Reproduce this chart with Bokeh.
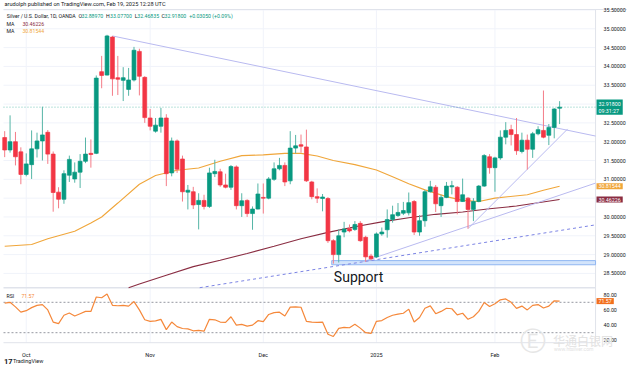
from bokeh.plotting import figure
from bokeh.models import (Range1d, FixedTicker, Label, ColumnDataSource, PrintfTickFormatter,
                          LinearAxis)
from bokeh.embed import file_html
from bokeh.resources import INLINE

# ---------------- data ----------------
OPEN = [32.11, 31.78, 32.00, 31.73, 31.13, 31.39, 31.81, 32.02, 32.25, 31.67,
        30.66, 30.47, 31.11, 31.01, 31.19, 31.48, 31.69, 31.69, 33.86, 33.77,
        34.78, 33.70, 33.63, 33.39, 33.64, 34.40, 33.71, 32.63, 32.28, 32.41,
        32.63, 31.17, 32.02, 31.54, 30.66, 30.67, 30.33, 30.44, 30.28, 31.15,
        31.20, 30.85, 30.79, 31.33, 30.30, 30.44, 30.09, 30.21, 30.52, 30.50,
        31.00, 31.28, 31.37, 30.96, 31.83, 31.92, 31.86, 30.93, 30.54, 30.49,
        30.49, 29.37, 29.00, 29.60, 29.69, 29.67, 29.83, 29.46, 28.96, 28.94,
        29.55, 29.66, 29.93, 30.04, 30.10, 30.11, 30.41, 29.60, 29.90, 30.67,
        30.79, 30.30, 30.52, 30.80, 30.79, 30.41, 30.50, 30.20, 30.41, 30.82,
        31.60, 31.31, 31.57, 32.12, 32.32, 32.19, 31.74, 32.04, 31.80, 32.21,
        32.30, 32.17, 32.38, 32.8897]
HIGH = [32.28, 32.70, 32.26, 31.85, 31.69, 32.30, 32.24, 32.93, 32.31, 31.74,
        30.79, 31.24, 31.63, 31.45, 31.67, 32.11, 32.06, 33.76, 34.28, 34.84,
        34.81, 34.28, 33.98, 33.96, 34.52, 34.47, 33.74, 32.87, 32.63, 32.90,
        32.73, 32.11, 32.06, 31.63, 30.85, 30.80, 30.63, 30.59, 31.31, 31.52,
        31.28, 31.15, 31.38, 31.37, 30.63, 30.47, 30.28, 30.89, 30.89, 31.06,
        31.45, 31.57, 31.45, 32.28, 32.18, 32.19, 32.32, 30.96, 30.76, 30.61,
        30.53, 29.41, 29.67, 29.87, 29.80, 29.89, 29.89, 29.50, 29.02, 29.59,
        29.72, 30.20, 30.30, 30.37, 30.40, 30.65, 30.45, 30.05, 30.72, 30.96,
        30.85, 30.59, 30.93, 30.96, 30.82, 31.02, 30.53, 30.50, 30.85, 31.67,
        31.67, 31.60, 32.30, 32.52, 32.45, 32.63, 32.24, 32.19, 32.26, 32.41,
        33.36, 32.47, 32.89, 33.077]
LOW = [31.59, 31.71, 31.37, 30.87, 31.08, 31.01, 31.58, 31.50, 31.41, 30.14,
       30.23, 30.35, 30.93, 30.91, 30.77, 31.43, 31.31, 31.67, 33.42, 33.76,
       33.22, 33.24, 33.08, 33.22, 33.60, 33.23, 32.50, 32.30, 32.24, 32.24,
       30.82, 31.08, 31.17, 30.41, 30.20, 30.21, 29.67, 30.20, 30.24, 31.06,
       30.80, 30.76, 30.72, 30.20, 30.00, 30.00, 29.66, 30.20, 30.09, 30.47,
       30.96, 31.24, 30.82, 30.87, 31.69, 31.71, 30.93, 30.47, 30.37, 30.15,
       29.31, 28.76, 28.79, 29.46, 29.59, 29.63, 29.34, 28.81, 28.85, 28.91,
       29.50, 29.45, 29.85, 30.00, 30.05, 30.04, 29.52, 29.50, 29.74, 30.65,
       30.13, 30.00, 30.50, 30.60, 30.07, 30.40, 29.69, 29.89, 30.39, 30.80,
       31.15, 30.67, 31.52, 31.93, 31.90, 31.65, 31.69, 31.26, 31.57, 32.17,
       32.09, 31.91, 32.09, 32.46835]
CLOSE = [31.78, 32.00, 31.60, 31.13, 31.41, 31.81, 32.02, 32.18, 31.67, 30.65,
         30.47, 31.15, 31.53, 31.19, 31.48, 31.67, 31.66, 33.69, 33.76, 34.81,
         33.67, 33.66, 33.70, 33.64, 34.43, 33.74, 32.64, 32.41, 32.44, 32.63,
         31.15, 32.02, 31.27, 30.67, 30.71, 30.32, 30.44, 30.28, 31.17, 31.21,
         30.85, 30.79, 31.34, 30.30, 30.43, 30.09, 30.21, 30.61, 30.50, 31.01,
         31.28, 31.37, 30.93, 31.83, 31.89, 31.88, 30.96, 30.54, 30.50, 30.53,
         29.37, 29.00, 29.50, 29.68, 29.63, 29.80, 29.37, 28.94, 28.89, 29.55,
         29.60, 29.93, 30.06, 30.12, 30.17, 30.38, 29.60, 29.90, 30.67, 30.80,
         30.35, 30.52, 30.82, 30.83, 30.41, 30.59, 30.20, 30.41, 30.82, 31.63,
         31.31, 31.57, 32.12, 32.30, 32.19, 31.76, 32.04, 31.80, 32.21, 32.32,
         32.12, 32.38, 32.87, 32.918]

RSI = [69, 70, 64, 57, 59, 63, 66, 67, 60, 44,
       42, 53, 56, 52, 55, 58, 58, 77, 76, 81,
       66, 65.5, 66, 65, 71, 60, 47, 45, 45.5, 47.5,
       34, 44, 38, 35.5, 35, 32.5, 33, 32, 47.6, 47,
       44, 43.5, 51, 40, 41, 38.7, 40, 45.8, 44.5, 54,
       56.5, 57, 52, 63.6, 64, 63.5, 45, 44, 43.5, 44,
       28, 25, 35.6, 37, 36.5, 41, 36, 30, 29, 45,
       46, 50, 53, 54.5, 55.6, 61, 44, 50, 62.2, 65.3,
       55, 58, 62.2, 61.5, 53.5, 55.6, 47.6, 51, 58, 69.8,
       64.4, 68, 73.3, 74.5, 70, 62, 65, 60, 66, 67,
       62.5, 65, 72, 71.57]
RSI_LAST = 71.57
RSI_BANDS = [70, 30]
RSI_TICKS = [20, 40, 60, 80]

# moving averages (sampled along the drawn curves)
MA50_X = [0, 5, 8, 10, 13, 16, 18, 21, 25, 28, 32, 36, 40, 44, 48, 52, 55, 58, 61, 65,
          69, 72, 75, 78, 82, 85, 88, 91, 97, 100, 103]
MA50_Y = [29.22, 29.27, 29.42, 29.50, 29.62, 29.84, 30.00, 30.37, 30.87, 31.10, 31.24,
          31.30, 31.48, 31.63, 31.65, 31.69, 31.69, 31.62, 31.50, 31.39, 31.25, 31.07,
          30.88, 30.72, 30.54, 30.44, 30.41, 30.50, 30.59, 30.71, 30.81544]
MA200_X = [23, 25, 30, 35, 40, 45, 50, 55, 60, 65, 70, 75, 80, 85, 90, 95, 103]
MA200_Y = [28.12, 28.22, 28.45, 28.68, 28.85, 29.03, 29.22, 29.42, 29.59, 29.74, 29.87,
           29.98, 30.07, 30.13, 30.22, 30.29, 30.46226]

# drawings
DOWN_TL_X, DOWN_TL_Y = [20, 109.67], [34.81, 32.15]
UP_TL1_X, UP_TL1_Y = [66.5, 109.67], [28.81, 30.90]
UP_TL2_X, UP_TL2_Y = [86, 104.5], [29.69, 32.34]
DASH_TL_X, DASH_TL_Y = [36.2, 109.67], [28.12, 29.79]
SUPPORT_LEFT, SUPPORT_LOW, SUPPORT_HIGH = 60.7, 28.73, 28.84

PRICE_GRID = [28.5, 29.0, 29.5, 30.0, 30.5, 31.0, 31.5, 32.0, 32.5, 33.0, 33.5, 34.0, 34.5, 35.0, 35.5]
PRICE_LABELS = [28.5, 29.0, 29.5, 30.0, 31.0, 31.5, 32.0, 32.5, 33.5, 34.0, 34.5, 35.0, 35.5]
MONTH_TICKS = [4, 27, 48, 69, 91]
MONTH_LABELS = ["Oct", "Nov", "Dec", "2025", "Feb"]

LEG_O, LEG_H, LEG_L, LEG_C = "32.88970", "33.07700", "32.46835", "32.91800"
LEG_CHG = "+0.03050 (+0.09%)"
MA200_LAST, MA50_LAST = 30.46226, 30.81544

# ---------------- styling / layout ----------------
GREEN, RED = "#089981", "#f23645"
WICK_G, WICK_R = "#55b5a6", "#f47c87"
ORANGE, MAROON = "#f0a63a", "#8a2d42"
RSI_COL, RSI_BOX = "#f5883a", "#f26f1d"
LAV = "#b9baf0"
TXT = "#131722"
BORDER = "#e0e3eb"
GRID = "#f0f3fa"
FONT = "Roboto"

W, H = 627, 365
X0, XEND = -0.7767, 115.6           # whole canvas, in bar-index units
PANE_X0, PANE_X1 = -0.22, 109.67    # chart panes, in bar-index units
Y_BOT, Y_TOP = 26.053, 35.752       # whole canvas, in price units
PANE_TOP, PANE_SPLIT, PANE_BOT = 35.513, 28.117, 26.659
R_BOT, R_TOP = -13.2, 467.4         # whole canvas, in RSI units
BOX_X = 596                         # screen x of the price-scale badges

p = figure(width=W, height=H, output_backend="svg", toolbar_location=None,
           x_range=Range1d(X0, XEND), y_range=Range1d(Y_BOT, Y_TOP),
           x_axis_location=None, y_axis_location=None, min_border=0)
p.extra_y_ranges = {"rsi": Range1d(R_BOT, R_TOP)}
p.outline_line_color = None
p.background_fill_color = "white"
p.border_fill_color = "white"
p.xgrid.visible = False
p.ygrid.visible = False


def style_axis(ax, standoff, size="5.3px"):
    ax.axis_line_color = None
    ax.major_tick_line_color = None
    ax.minor_tick_line_color = None
    ax.major_label_text_font = FONT
    ax.major_label_text_font_size = size
    ax.major_label_text_color = TXT
    ax.major_label_standoff = standoff


price_axis = LinearAxis(fixed_location=PANE_X1, ticker=FixedTicker(ticks=PRICE_LABELS),
                        formatter=PrintfTickFormatter(format="%.5f"))
style_axis(price_axis, 2)
p.add_layout(price_axis, "right")

rsi_axis = LinearAxis(fixed_location=PANE_X1, y_range_name="rsi",
                      ticker=FixedTicker(ticks=RSI_TICKS), formatter=PrintfTickFormatter(format="%.2f"))
style_axis(rsi_axis, 2)
p.add_layout(rsi_axis, "right")

time_axis = LinearAxis(fixed_location=PANE_BOT, ticker=FixedTicker(ticks=MONTH_TICKS),
                       major_label_overrides={t: s for t, s in zip(MONTH_TICKS, MONTH_LABELS)})
style_axis(time_axis, 3, "5.5px")
p.add_layout(time_axis, "below")

# grid lines and pane borders
p.segment(x0=PANE_X0, x1=PANE_X1, y0=PRICE_GRID, y1=PRICE_GRID, line_color=GRID, line_width=1)
p.segment(x0=MONTH_TICKS, x1=MONTH_TICKS, y0=PANE_BOT, y1=PANE_TOP, line_color=GRID, line_width=1)
p.segment(x0=[PANE_X0, PANE_X0, PANE_X0], x1=[XEND, PANE_X1, PANE_X1],
          y0=[PANE_TOP, PANE_SPLIT, PANE_BOT], y1=[PANE_TOP, PANE_SPLIT, PANE_BOT],
          line_color=BORDER, line_width=[1, 1.5, 1])
p.segment(x0=[PANE_X1], x1=[PANE_X1], y0=[PANE_BOT], y1=[PANE_TOP], line_color=BORDER, line_width=1)

# support zone
p.quad(left=[SUPPORT_LEFT], right=[PANE_X1], bottom=[SUPPORT_LOW], top=[SUPPORT_HIGH],
       fill_color="#d3e4fb", line_color="#8fb6f2", line_width=1)

# moving averages
p.line(MA50_X, MA50_Y, line_color=ORANGE, line_width=1.1)
p.line(MA200_X, MA200_Y, line_color=MAROON, line_width=1.1)

# trend lines
p.line(DOWN_TL_X, DOWN_TL_Y, line_color=LAV, line_width=1)
p.line(UP_TL1_X, UP_TL1_Y, line_color=LAV, line_width=1)
p.line(UP_TL2_X, UP_TL2_Y, line_color=LAV, line_width=1)
p.line(DASH_TL_X, DASH_TL_Y, line_color="#7c84e4", line_width=1, line_dash="3 3")

# last price line
p.segment(x0=[PANE_X0], x1=[PANE_X1], y0=[CLOSE[-1]], y1=[CLOSE[-1]], line_color=GREEN,
          line_alpha=0.55, line_dash="1 2", line_width=1)

# candles
idx = list(range(len(OPEN)))
up = [c >= o for o, c in zip(OPEN, CLOSE)]
src = ColumnDataSource(dict(
    x=idx, high=HIGH, low=LOW,
    top=[max(o, c) for o, c in zip(OPEN, CLOSE)],
    bottom=[min(o, c) for o, c in zip(OPEN, CLOSE)],
    col=[GREEN if u else RED for u in up],
    wick=[WICK_G if u else WICK_R for u in up],
))
p.segment(x0="x", y0="high", x1="x", y1="low", line_color="wick", line_width=1, source=src)
p.vbar(x="x", width=0.72, top="top", bottom="bottom", fill_color="col", line_color="col",
       line_width=0.7, source=src)

# RSI pane
p.segment(x0=PANE_X0, x1=PANE_X1, y0=RSI_BANDS, y1=RSI_BANDS, y_range_name="rsi",
          line_color="#9598a1", line_dash="2 2", line_width=1)
p.line(idx, RSI, y_range_name="rsi", line_color=RSI_COL, line_width=1.2)

# support text
p.add_layout(Label(x=SUPPORT_LEFT + 0.4, y=28.40, text="Support", text_font=FONT,
                   text_font_size="14px", text_color=TXT, text_baseline="middle"))


def lab(x, y, text, color, size="5.2px", **kw):
    p.add_layout(Label(x=x, y=y, x_units="screen", y_units="screen", text=text,
                       text_color=color, text_font=kw.pop("font", FONT), text_font_size=size,
                       text_baseline="middle", **kw))


# header and legends
lab(4, 361.4, "arudolph published on TradingView.com, Feb 19, 2025 12:28 UTC", TXT, "5.6px")
y1 = 349.8
lab(6.3, y1, "Silver / U.S. Dollar, 1D, OANDA", TXT)
for xo, t, c in [(78.0, "O", TXT), (81.0, LEG_O, GREEN), (105.6, "H", TXT), (109.6, LEG_H, GREEN),
                 (134.3, "L", TXT), (136.8, LEG_L, GREEN), (161.0, "C", TXT), (164.0, LEG_C, GREEN),
                 (188.7, LEG_CHG, GREEN)]:
    lab(xo, y1, t, c)
lab(6, 341.6, "MA", TXT)
lab(21.9, 341.6, f"{MA200_LAST:.5f}", MAROON)
lab(6, 334.8, "MA", TXT)
lab(21.9, 334.8, f"{MA50_LAST:.5f}", ORANGE)
lab(6, 69.8, "RSI", TXT)
lab(20.9, 69.8, f"{RSI_LAST:.2f}", RSI_COL)


def box(y, text, bg, yrange="default"):
    p.add_layout(Label(x=BOX_X, x_units="screen", y=y, y_range_name=yrange, text=text,
                       text_color="white", text_font=FONT, text_font_size="5.3px",
                       text_baseline="middle", background_fill_color=bg,
                       padding=(2, 1)))


box(CLOSE[-1], f"{LEG_C}\n09:31:27", GREEN)
box(MA50_LAST, f"{MA50_LAST:.5f}", ORANGE)
box(MA200_LAST, f"{MA200_LAST:.5f}", MAROON)
box(RSI_LAST, f"{RSI_LAST:.2f}", RSI_BOX, "rsi")

# watermark
lab(532, 24.8, "Ⓔ", "#e6e6e6", "26px", text_align="center", font="DejaVu Sans")
lab(552.6, 25.3, "华通白银网", "#e2e2e2", "12px", font="Noto Sans CJK SC")
lab(553.6, 16.9, "www.htsilver.com", "#e2e2e2", "5px")

# footer
lab(3.5, 4.2, "17", TXT, "7.5px", text_font_style="bold")
lab(12.5, 4.2, "TradingView", TXT, "5.5px")

open("out.html", "w").write(file_html(p, INLINE))
